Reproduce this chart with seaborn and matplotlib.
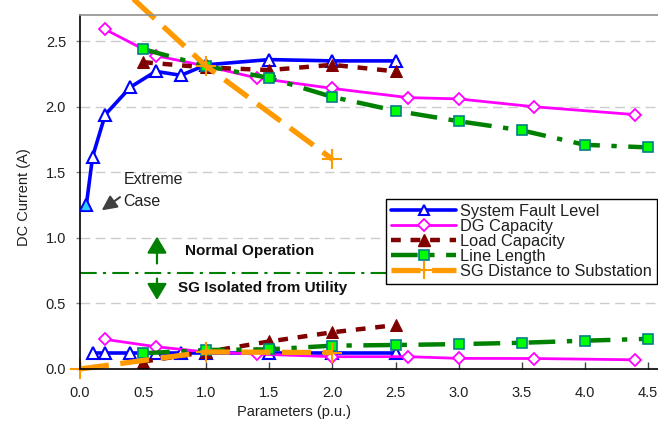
import matplotlib
matplotlib.use("Agg")
import matplotlib.pyplot as plt
import seaborn as sns
import numpy as np
from matplotlib.lines import Line2D

sns.set_theme(style="white")
plt.rcParams['font.family'] = ['Liberation Sans', 'DejaVu Sans']

# ---- data ----
sfl_x_hi = [0.05, 0.1, 0.2, 0.4, 0.6, 0.8, 1.0, 1.5, 2.0, 2.5]
sfl_y_hi = [1.25, 1.62, 1.94, 2.15, 2.27, 2.24, 2.32, 2.36, 2.35, 2.35]
sfl_x_lo = [0.1, 0.2, 0.4, 0.6, 0.8, 1.0, 1.5, 2.0, 2.5]
sfl_y_lo = [0.125, 0.125, 0.125, 0.125, 0.125, 0.125, 0.125, 0.125, 0.125]

dg_x = [0.2, 0.6, 1.0, 1.4, 2.0, 2.6, 3.0, 3.6, 4.4]
dg_y_hi = [2.59, 2.39, 2.31, 2.22, 2.14, 2.07, 2.06, 2.00, 1.94]
dg_y_lo = [0.226, 0.17, 0.13, 0.114, 0.094, 0.094, 0.081, 0.08, 0.07]

load_x = [0.5, 1.0, 1.5, 2.0, 2.5]
load_y_hi = [2.34, 2.30, 2.28, 2.32, 2.27]
load_y_lo = [0.056, 0.13, 0.21, 0.28, 0.335]

line_x = [0.5, 1.0, 1.5, 2.0, 2.5, 3.0, 3.5, 4.0, 4.5]
line_y_hi = [2.44, 2.31, 2.22, 2.075, 1.97, 1.89, 1.82, 1.71, 1.69]
line_y_lo = [0.12, 0.145, 0.15, 0.178, 0.183, 0.19, 0.20, 0.216, 0.23]

sg_x_hi = [0.2, 1.0, 2.0]
sg_y_hi = [3.02, 2.31, 1.60]
sg_x_lo = [0.0, 1.0, 2.0]
sg_y_lo = [0.0, 0.13, 0.125]

threshold = 0.735

xticks = [0.0, 0.5, 1.0, 1.5, 2.0, 2.5, 3.0, 3.5, 4.0, 4.5]
yticks = [0.0, 0.5, 1.0, 1.5, 2.0, 2.5]

labels = ["System Fault Level", "DG Capacity", "Load Capacity", "Line Length",
          "SG Distance to Substation"]

# ---- figure ----
fig = plt.figure(figsize=(6.58, 4.29), dpi=100)
ax = fig.add_axes([80/658, 1-369/429, 1-80/658, (369-15)/429])

BLUE = '#0000FF'
MAG = '#FF00FF'
DRED = '#800000'
GREEN = '#008000'
ORANGE = '#FF9900'

# grid
for yv in yticks[1:]:
    ax.axhline(yv, color='#CCCCCC', lw=1, ls=(0, (7, 4)), zorder=0)

common = dict(estimator=None, sort=False, legend=False, ax=ax)

sfl_style = dict(color=BLUE, lw=2.6, marker='^', ms=8, mfc='white', mec=BLUE, mew=1.5,
                 linestyle='-')
dg_style = dict(color=MAG, lw=2.0, marker='D', ms=6.5, mfc='white', mec=MAG, mew=1.3,
                linestyle='-')
load_style = dict(color=DRED, lw=3.2, marker='^', ms=9, mfc=DRED, mec=DRED,
                  linestyle=(0, (2.2, 2.2)))
line_style = dict(color=GREEN, lw=3.2, marker='s', ms=7.5, mfc='#00FF00', mec='#008080',
                  mew=1.2, linestyle=(0, (6, 2.6, 1.2, 2.6)))
sg_style = dict(color=ORANGE, lw=3.8, marker='+', ms=14, mew=1.5, mec=ORANGE,
                linestyle=(0, (5.5, 2.2)))

sns.lineplot(x=sfl_x_hi, y=sfl_y_hi, **common, **sfl_style)
sns.lineplot(x=sfl_x_lo, y=sfl_y_lo, **common, **sfl_style)
sns.lineplot(x=dg_x, y=dg_y_hi, **common, **dg_style)
sns.lineplot(x=dg_x, y=dg_y_lo, **common, **dg_style)
sns.lineplot(x=load_x, y=load_y_hi, **common, **load_style)
sns.lineplot(x=load_x, y=load_y_lo, **common, **load_style)
sns.lineplot(x=line_x, y=line_y_hi, **common, **line_style)
sns.lineplot(x=line_x, y=line_y_lo, **common, **line_style)
sns.lineplot(x=sg_x_hi, y=sg_y_hi, **common, **sg_style)
ax.lines[-1].set_clip_on(False)
sns.lineplot(x=sg_x_lo, y=sg_y_lo, **common, **sg_style)
ax.lines[-1].set_clip_on(False)

# extreme case marker filled
ax.plot(sfl_x_hi[0], sfl_y_hi[0], marker='^', ms=8, mfc='#33CCFF', mec=BLUE, mew=1.2,
        ls='none', zorder=5, clip_on=False)

# threshold line
ax.axhline(threshold, color=GREEN, lw=1.5, ls=(0, (8, 3, 1.5, 3)), zorder=1)

# annotations
ax.text(0.343, 1.448, "Extreme", fontsize=11.5, va='center', ha='left', color='#202020')
ax.text(0.343, 1.275, "Case", fontsize=11.5, va='center', ha='left', color='#202020')
ax.annotate("", xy=(0.172, 1.21), xytext=(0.317, 1.311),
            arrowprops=dict(arrowstyle='-|>,head_length=0.45,head_width=0.22',
                            mutation_scale=20, shrinkA=0, shrinkB=0,
                            color='#404040', lw=1.5))

ax.annotate("", xy=(0.61, 1.01), xytext=(0.61, 0.805),
            arrowprops=dict(arrowstyle='-|>,head_length=0.5,head_width=0.3',
                            mutation_scale=20, shrinkA=0, shrinkB=0,
                            color=GREEN, lw=1.6))
ax.annotate("", xy=(0.61, 0.526), xytext=(0.61, 0.69),
            arrowprops=dict(arrowstyle='-|>,head_length=0.5,head_width=0.3',
                            mutation_scale=20, shrinkA=0, shrinkB=0,
                            color=GREEN, lw=1.6))
ax.text(0.83, 0.90, "Normal Operation", fontsize=11, fontweight='bold', va='center',
        ha='left', color='#101010')
ax.text(0.78, 0.615, "SG Isolated from Utility", fontsize=11, fontweight='bold',
        va='center', ha='left', color='#101010')

# axes
ax.set_xlim(0, 4.58)
ax.set_ylim(0, 2.70)
ax.set_xticks(xticks)
ax.set_xticklabels([f"{v:.1f}" for v in xticks])
ax.set_yticks(yticks)
ax.set_yticklabels([f"{v:.1f}" for v in yticks])
ax.tick_params(axis='x', direction='in', length=5, width=1, color='#404040',
               labelsize=10.5, pad=12, labelcolor='#202020', bottom=True)
ax.tick_params(axis='y', direction='out', length=3, width=1, color='#808080',
               labelsize=10.5, pad=7, labelcolor='#202020', left=True)
for s in ['left', 'bottom']:
    ax.spines[s].set_color('black')
    ax.spines[s].set_linewidth(1.2)
ax.spines['top'].set_color('#909090')
ax.spines['top'].set_linewidth(1.2)
ax.spines['right'].set_visible(False)

ax.set_xlabel("Parameters (p.u.)", fontsize=10.5, color='#202020')
ax.xaxis.set_label_coords(0.371, -0.103)
ax.set_ylabel("DC Current (A)", fontsize=10.5, color='#202020')
ax.yaxis.set_label_coords(-0.085, 0.486)

# legend
handles = [
    Line2D([], [], **sfl_style),
    Line2D([], [], **dg_style),
    Line2D([], [], **load_style),
    Line2D([], [], **line_style),
    Line2D([], [], **sg_style),
]
leg = fig.legend(handles, labels, loc='upper left',
                 bbox_to_anchor=(386/658, 1-199/429), fontsize=11.8,
                 frameon=True, fancybox=False, edgecolor='black', framealpha=1,
                 handlelength=4.0, handletextpad=0.2, labelspacing=0.0,
                 borderpad=0.3, borderaxespad=0, markerscale=0.9)
leg.get_frame().set_linewidth(1.0)
for t in leg.get_texts():
    t.set_color('#202020')

fig.savefig("out.png", dpi=100)
